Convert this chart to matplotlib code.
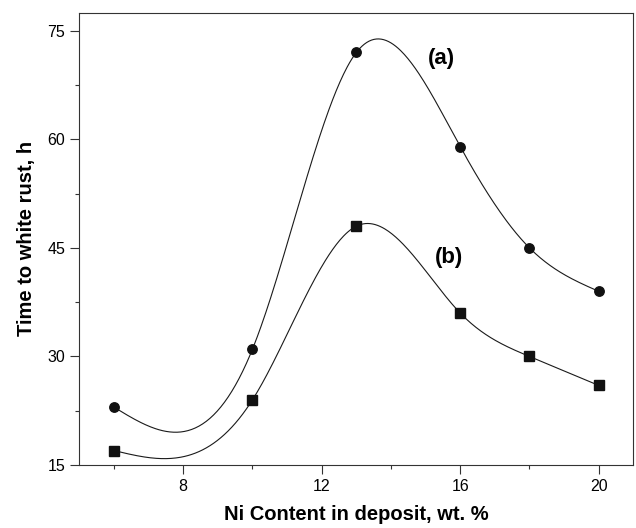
import numpy as np
import matplotlib.pyplot as plt
from matplotlib.ticker import MultipleLocator

plt.rcParams['font.family'] = ['Liberation Sans', 'DejaVu Sans']

ni_content = [6, 10, 13, 16, 18, 20]
time_a = [23, 31, 72, 59, 45, 39]
time_b = [17, 24, 48, 36, 30, 26]


def natural_spline(x, y, n=400):
    # natural cubic spline through the points, for the smooth connecting line
    x = np.asarray(x, float)
    y = np.asarray(y, float)
    h = np.diff(x)
    m = len(x)
    A = np.zeros((m, m))
    r = np.zeros(m)
    A[0, 0] = 1.0
    A[-1, -1] = 1.0
    for i in range(1, m - 1):
        A[i, i - 1] = h[i - 1]
        A[i, i] = 2.0 * (h[i - 1] + h[i])
        A[i, i + 1] = h[i]
        r[i] = 6.0 * ((y[i + 1] - y[i]) / h[i] - (y[i] - y[i - 1]) / h[i - 1])
    M = np.linalg.solve(A, r)

    xs = np.linspace(x[0], x[-1], n)
    k = np.clip(np.searchsorted(x, xs) - 1, 0, m - 2)
    t0 = x[k + 1] - xs
    t1 = xs - x[k]
    hk = h[k]
    ys = (M[k] * t0 ** 3 + M[k + 1] * t1 ** 3) / (6 * hk) \
        + (y[k] / hk - M[k] * hk / 6) * t0 \
        + (y[k + 1] / hk - M[k + 1] * hk / 6) * t1
    return xs, ys


fig = plt.figure(figsize=(6.36, 5.28), dpi=100)
ax = fig.add_axes([0.1247, 0.1193, 0.8711, 0.8567])

for vals, mk in [(time_a, 'o'), (time_b, 's')]:
    xs, ys = natural_spline(ni_content, vals)
    ax.plot(xs, ys, color='#1a1a1a', lw=0.8, zorder=2)
    ax.plot(ni_content, vals, mk, color='#111111', ms=6.8, zorder=3)

ax.text(15.45, 71.2, '(a)', fontsize=16, fontweight='bold', ha='center', va='center')
ax.text(15.68, 43.7, '(b)', fontsize=16, fontweight='bold', ha='center', va='center')

ax.set_xlim(5, 21)
ax.set_ylim(15, 77.5)
ax.xaxis.set_major_locator(MultipleLocator(4))
ax.xaxis.set_minor_locator(MultipleLocator(2))
ax.yaxis.set_major_locator(MultipleLocator(15))
ax.yaxis.set_minor_locator(MultipleLocator(7.5))
ax.tick_params(which='both', direction='out', top=False, right=False,
               labelsize=11.5, color='#333333', width=0.8, pad=4)
ax.tick_params(which='major', length=6.2)
ax.tick_params(which='minor', length=3.1)
for s in ax.spines.values():
    s.set_linewidth(0.8)
    s.set_color('#333333')

ax.set_xlabel('Ni Content in deposit, wt. %', fontsize=14.5, fontweight='bold', labelpad=8)
ax.set_ylabel('Time to white rust, h', fontsize=14.5, fontweight='bold', labelpad=8)

fig.savefig('out.png', dpi=100)
